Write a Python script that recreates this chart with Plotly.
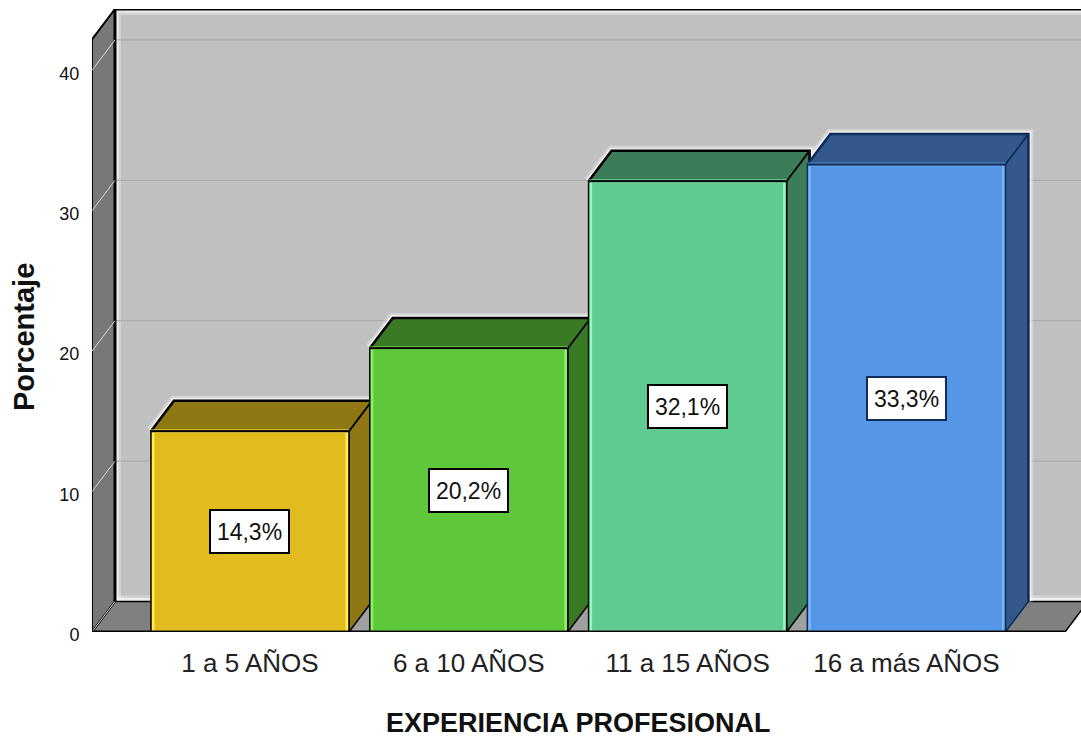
import plotly.graph_objects as go

categories = ["1 a 5 AÑOS", "6 a 10 AÑOS", "11 a 15 AÑOS", "16 a más AÑOS"]
values = [14.3, 20.2, 32.1, 33.3]
value_labels = ["14,3%", "20,2%", "32,1%", "33,3%"]
y_ticks = [0, 10, 20, 30, 40]

front_colors = ["#E2BC1F", "#5FC83A", "#5FCB90", "#5596E6"]
edge_colors = ["#FFEE50", "#8CF060", "#90FCBC", "#78B6FC"]
dark_colors = ["#8F7714", "#3B7A25", "#3A7D58", "#33598C"]
line_colors = ["#000000", "#000000", "#000000", "#102C58"]

W, H = 1081, 737
L, T, B = 92, 9, 105
BAR_W = 0.905
DX, DY = 0.105, 2.17
X_MIN, X_MAX = -0.722, 3.798
Y_TOP = 44.37
FLOOR_R = 3.725
FONT = "Liberation Sans"

fig = go.Figure()


def poly(xs, ys, fill, line="#000000", lw=1.5, **kw):
    fig.add_trace(go.Scatter(x=xs, y=ys, mode="lines", fill="toself" if fill else None,
                             fillcolor=fill, line=dict(color=line, width=lw),
                             hoverinfo="skip", showlegend=False, **kw))


def line(xs, ys, color, lw=1, opacity=1.0, **kw):
    fig.add_trace(go.Scatter(x=xs, y=ys, mode="lines", line=dict(color=color, width=lw),
                             opacity=opacity, hoverinfo="skip", showlegend=False, **kw))


XB = X_MIN + DX       # back-left corner of room
FRONT_TOP = Y_TOP - DY

# back wall, soft inner glow, grid
poly([XB, X_MAX + 1, X_MAX + 1, XB, XB], [DY, DY, Y_TOP, Y_TOP, DY], "#C0C0C0", line="#C0C0C0", lw=0)
line([XB, XB, X_MAX + 1], [DY, Y_TOP, Y_TOP], "#FFFFFF", 12, opacity=0.3)
line([XB, XB, X_MAX + 1], [DY, Y_TOP, Y_TOP], "#FFFFFF", 7, opacity=0.6)
line([XB, X_MAX + 1], [DY, DY], "#FFFFFF", 12, opacity=0.3)
line([XB, X_MAX + 1], [DY, DY], "#FFFFFF", 7, opacity=0.6)
for t in y_ticks[1:]:
    line([XB, X_MAX + 1], [t + DY, t + DY], "#A6A6A6", 1)

# floor and left wall
poly([X_MIN, FLOOR_R, FLOOR_R + DX, XB, X_MIN], [0, 0, DY, DY, 0], "#808080", line="#000000", lw=1.5)
poly([X_MIN, XB, XB, X_MIN, X_MIN], [0, DY, Y_TOP, FRONT_TOP, 0], "#787878", line="#000000", lw=2)
line([XB, XB], [DY, Y_TOP], "#000000", 3)
line([XB, X_MAX + 1], [Y_TOP, Y_TOP], "#000000", 3)
line([FLOOR_R + DX, X_MAX + 1], [DY, DY], "#000000", 1)
for t in y_ticks:
    line([X_MIN, XB], [t, t + DY], "#D8D8D8", 1)

# floor visible between the bars is a lighter grey
for i in range(len(values) - 1):
    r = i + BAR_W / 2
    poly([r, i + 1 - BAR_W / 2, i + 1 - BAR_W / 2, r + DX, r], [0, 0, DY, DY, 0], "#A0A0A0", line="#000000", lw=0.5)

# extruded top and side of each bar, with a pale halo behind
for i, v in enumerate(values):
    l, r = i - BAR_W / 2, i + BAR_W / 2
    line([l, l + DX, r + DX, r + DX], [v, v + DY, v + DY, DY], "#FFFFFF", 10, opacity=0.3)
    line([l, l + DX, r + DX, r + DX], [v, v + DY, v + DY, DY], "#FFFFFF", 6, opacity=0.6)
for i, v in enumerate(values):
    l, r = i - BAR_W / 2, i + BAR_W / 2
    poly([l, l + DX, r + DX, r, l, None, r, r + DX, r + DX, r, r],
         [v, v + DY, v + DY, v, v, None, v, v + DY, DY, 0, v],
         dark_colors[i], line=line_colors[i], lw=1.5)
    line([l, l + DX, r + DX, r + DX], [v, v + DY, v + DY, DY], line_colors[i], 2.5)

# front faces, on an overlaid pair of axes so they sit above the extrusions
fig.add_trace(go.Bar(x=list(range(len(values))), y=values, width=BAR_W - 0.016,
                     marker=dict(color=front_colors, line=dict(color=edge_colors, width=3.5)),
                     hoverinfo="skip", showlegend=False, xaxis="x2", yaxis="y2"))
for i, v in enumerate(values):
    l, r = i - BAR_W / 2, i + BAR_W / 2
    line([l, l, r, r], [0, v, v, 0], line_colors[i], 1.5, xaxis="x2", yaxis="y2")
    fig.data[-1].cliponaxis = False
    line([l, r], [v, v], line_colors[i], 2, xaxis="x2", yaxis="y2")
line([X_MIN, FLOOR_R], [0, 0], "#000000", 3, xaxis="x2", yaxis="y2")
fig.data[-1].cliponaxis = False

annotations = [
    dict(x=i, y=v / 2, xref="x2", yref="y2", text=lab, showarrow=False,
         font=dict(family=FONT, size=23, color="#111111"), bgcolor="#FFFFFF",
         bordercolor=line_colors[i], borderwidth=2, width=75, height=39, align="center", valign="middle")
    for i, (v, lab) in enumerate(zip(values, value_labels))
]
annotations += [
    dict(x=(578 - L) / (W - L), y=-0.1455, xref="paper", yref="paper", text="<b>EXPERIENCIA PROFESIONAL</b>",
         showarrow=False, font=dict(family=FONT, size=27, color="#111111"), xanchor="center", yanchor="middle"),
    dict(x=(24 - L) / (W - L), y=(632 - 337) / (632 - T), xref="paper", yref="paper",
         text="<b>Porcentaje</b>", textangle=-90, showarrow=False,
         font=dict(family=FONT, size=29, color="#111111"), xanchor="center", yanchor="middle"),
]

axis_common = dict(showgrid=False, zeroline=False, showline=False)
fig.update_layout(
    width=W, height=H, autosize=False,
    margin=dict(l=L, r=0, t=T, b=B, pad=0),
    paper_bgcolor="#FFFFFF", plot_bgcolor="#FFFFFF",
    showlegend=False, barmode="overlay",
    annotations=annotations,
    xaxis=dict(range=[X_MIN, X_MAX], tickmode="array", tickvals=list(range(len(categories))),
               ticktext=categories, tickfont=dict(family=FONT, size=26, color="#222222"),
               ticks="outside", ticklen=8, tickcolor="rgba(0,0,0,0)", **axis_common),
    yaxis=dict(range=[0, Y_TOP], tickmode="array", tickvals=y_ticks,
               tickfont=dict(family=FONT, size=18, color="#111111"), ticklabelshift=3,
               ticks="outside", ticklen=8, tickcolor="rgba(0,0,0,0)", **axis_common),
    xaxis2=dict(range=[X_MIN, X_MAX], overlaying="x", visible=False),
    yaxis2=dict(range=[0, Y_TOP], overlaying="y", visible=False),
)

fig.write_html("out.html", config={"displayModeBar": False},
               post_script="document.body.style.margin='0';document.body.style.overflow='hidden';")
